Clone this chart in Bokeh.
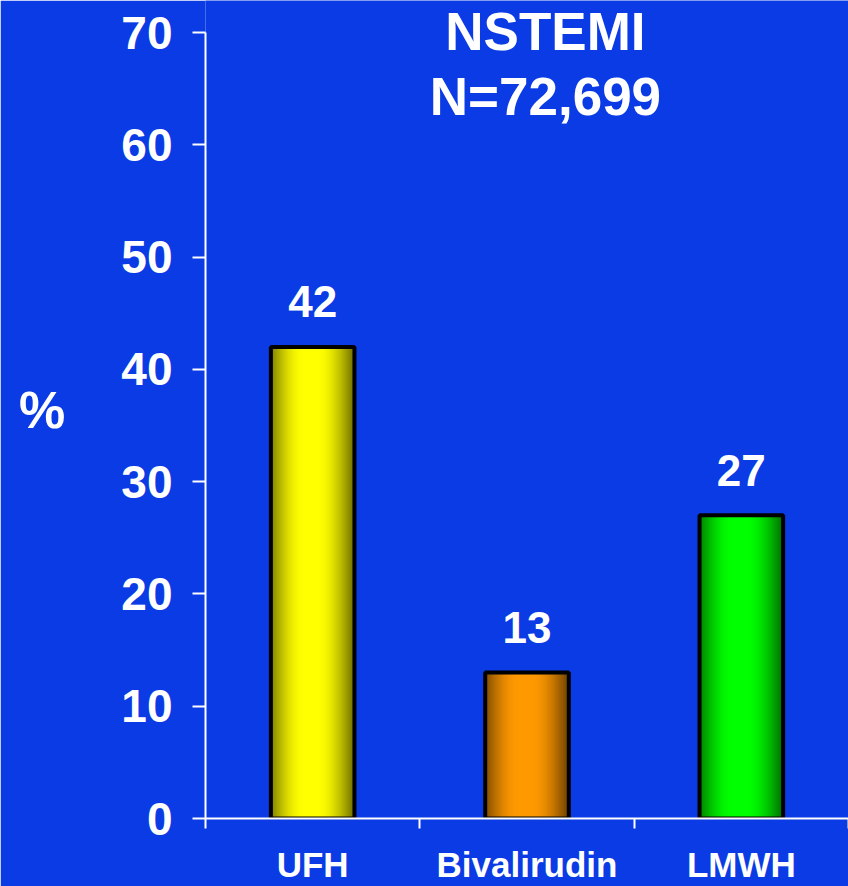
import numpy as np
from bokeh.plotting import figure
from bokeh.models import Range1d, FixedTicker, Label, ColumnDataSource
from bokeh.embed import file_html
from bokeh.resources import INLINE

# Share of NSTEMI patients by anticoagulant
categories = ["UFH", "Bivalirudin", "LMWH"]
values = [42, 13, 27]
bar_colors = [(255, 255, 0), (255, 153, 0), (0, 255, 0)]
y_ticks = [0, 10, 20, 30, 40, 50, 60, 70]
title_lines = ["NSTEMI", "N=72,699"]

BG = "#0A3BE4"
FONT = "Liberation Sans"

# the plot frame reaches the top of the page so the heading fits inside it;
# the y axis line itself stops at 70
p = figure(width=848, height=886, output_backend="svg", toolbar_location=None,
           x_range=Range1d(0, len(categories)), y_range=Range1d(0, 72.85),
           min_border_left=205, min_border_right=0, min_border_top=0,
           min_border_bottom=68)
p.background_fill_color = BG
p.border_fill_color = BG
p.outline_line_color = None
p.grid.visible = False

# y axis
ya = p.yaxis[0]
ya.bounds = (0, 70)
ya.ticker = FixedTicker(ticks=y_ticks, minor_ticks=[])
ya.axis_line_color = "white"
ya.axis_line_width = 2
ya.major_tick_line_color = "white"
ya.major_tick_line_width = 2
ya.major_tick_out = 13
ya.major_tick_in = 0
ya.minor_tick_line_color = None
ya.major_label_text_color = "white"
ya.major_label_text_font = FONT
ya.major_label_text_font_style = "bold"
ya.major_label_text_font_size = "46px"
ya.major_label_standoff = 20
ya.axis_label = "%"
ya.axis_label_orientation = "horizontal"
ya.axis_label_text_color = "white"
ya.axis_label_text_font = FONT
ya.axis_label_text_font_style = "bold"
ya.axis_label_text_font_size = "52px"
ya.axis_label_standoff = 53

# x axis: names at the bar centres, tick marks on the category boundaries
xa = p.xaxis[0]
xa.ticker = FixedTicker(ticks=[i + 0.5 for i in range(len(categories))],
                        minor_ticks=list(range(len(categories) + 1)))
xa.major_label_overrides = {i + 0.5: name for i, name in enumerate(categories)}
xa.axis_line_color = "white"
xa.axis_line_width = 2
xa.major_tick_line_color = None
xa.major_tick_out = 0
xa.major_tick_in = 0
xa.minor_tick_line_color = "white"
xa.minor_tick_line_width = 2
xa.minor_tick_out = 0
xa.minor_tick_in = -10
xa.major_label_text_color = "white"
xa.major_label_text_font = FONT
xa.major_label_text_font_style = "bold"
xa.major_label_text_font_size = "35px"
xa.major_label_standoff = 26

# shaded bars: strips painted left to right, each running to the bar's right edge
bar_w = 0.39
n_strips = 84


def shade(t):
    if t < 0.4:
        return 0.5 + 0.5 * np.sin(np.pi / 2 * t / 0.4)
    if t <= 0.55:
        return 1.0
    return 0.42 + 0.58 * np.cos(np.pi / 2 * (t - 0.55) / 0.45)


sl, sr, stop, scol = [], [], [], []
for i, (v, rgb) in enumerate(zip(values, bar_colors)):
    c = i + 0.5
    for k in range(n_strips):
        t0 = k / n_strips
        f = shade((k + 0.5) / n_strips)
        sl.append(c - bar_w / 2 + t0 * bar_w)
        sr.append(c + bar_w / 2)
        stop.append(v)
        scol.append("#%02x%02x%02x" % tuple(int(round(ch * f)) for ch in rgb))

p.quad(left="l", right="r", top="top", bottom=0, fill_color="color",
       line_color=None,
       source=ColumnDataSource(dict(l=sl, r=sr, top=stop, color=scol)))

centers = [i + 0.5 for i in range(len(categories))]
p.vbar(x=centers, top=values, bottom=0, width=bar_w, fill_color=None,
       line_color="black", line_width=4)

# value labels above the bars
for c, v in zip(centers, values):
    p.add_layout(Label(x=c, y=v, y_offset=45, text=str(v), text_align="center",
                       text_baseline="alphabetic", text_color="white",
                       text_font=FONT, text_font_style="bold",
                       text_font_size="44px"))

# heading
for line, yy in zip(title_lines, [70.11, 64.34]):
    p.add_layout(Label(x=1.586, y=yy, text=line, text_align="center",
                       text_baseline="alphabetic", text_color="white",
                       text_font=FONT, text_font_style="bold",
                       text_font_size="53px"))

open("out.html", "w").write(file_html(p, INLINE))
